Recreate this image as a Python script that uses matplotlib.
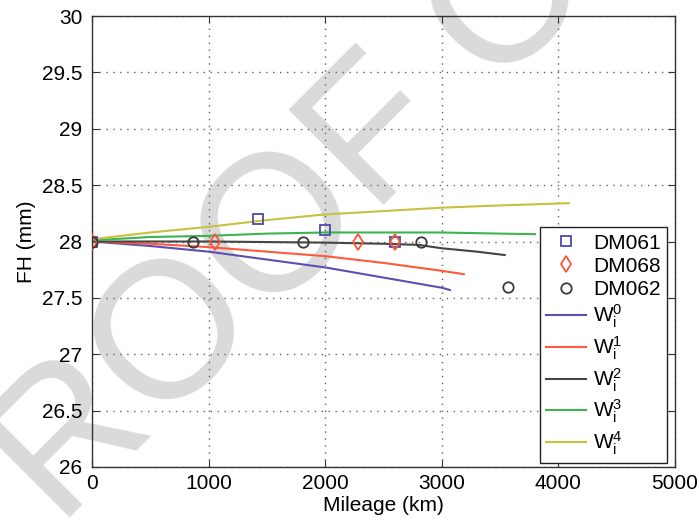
import numpy as np
import matplotlib
matplotlib.use("Agg")
import matplotlib.pyplot as plt

plt.rcParams['font.family'] = ['Liberation Sans', 'DejaVu Sans']
plt.rcParams['mathtext.fontset'] = 'custom'
plt.rcParams['mathtext.rm'] = 'Liberation Sans'
plt.rcParams['mathtext.it'] = 'Liberation Sans'

# measured flange height (FH) of three wheels
dm061_km = [0, 1425, 2000, 2600]
dm061_fh = [28.0, 28.2, 28.1, 28.0]
dm068_km = [0, 1055, 2280, 2600]
dm068_fh = [28.0, 28.0, 28.0, 28.0]
dm062_km = [0, 865, 1810, 2825, 3565]
dm062_fh = [28.0, 28.0, 28.0, 28.0, 27.6]

# simulated wear curves W_i^0 .. W_i^4
w0_km = [0, 500, 1000, 1500, 2000, 2500, 3000, 3070]
w0_fh = [28.0, 27.96, 27.91, 27.84, 27.77, 27.68, 27.59, 27.57]
w1_km = [0, 500, 1000, 1500, 2000, 2500, 3000, 3190]
w1_fh = [28.0, 27.98, 27.95, 27.91, 27.87, 27.81, 27.74, 27.71]
w2_km = [0, 1000, 2000, 2500, 2800, 3000, 3300, 3540]
w2_fh = [28.0, 28.0, 27.99, 27.98, 27.97, 27.94, 27.91, 27.88]
w3_km = [0, 500, 1000, 1500, 2000, 2500, 3000, 3500, 3800]
w3_fh = [28.01, 28.04, 28.05, 28.07, 28.08, 28.08, 28.08, 28.07, 28.065]
w4_km = [0, 500, 1000, 1500, 2000, 2500, 3000, 3500, 4090]
w4_fh = [28.02, 28.08, 28.13, 28.19, 28.24, 28.27, 28.30, 28.32, 28.34]

fig = plt.figure(figsize=(6.99, 5.26), dpi=100)
ax = fig.add_axes([92/699, 1 - 467/526, 583/699, 451/526])
ax.set_facecolor('none')

# watermark behind the axes
fig.text(-0.0465, -0.18, 'PROOF COPY', fontsize=140,
         color='#dadada', rotation=45, rotation_mode='anchor',
         ha='left', va='baseline', zorder=-1)

ax.plot(dm061_km, dm061_fh, 's', mfc='none', mec='#4b4bab', ms=7.5, mew=1.3, label='DM061', zorder=5)
ax.plot(dm068_km, dm068_fh, 'd', mfc='none', mec='#ff5533', ms=8, mew=1.3, label='DM068', zorder=5)
ax.plot(dm062_km, dm062_fh, 'o', mfc='none', mec='#3a3a3a', ms=7.5, mew=1.3, label='DM062', zorder=5)

ax.plot(w0_km, w0_fh, color='#5a50b4', lw=1.5, label=r'$\mathregular{W_i^0}$')
ax.plot(w1_km, w1_fh, color='#ff5a3c', lw=1.5, label=r'$\mathregular{W_i^1}$')
ax.plot(w2_km, w2_fh, color='#444444', lw=1.5, label=r'$\mathregular{W_i^2}$')
ax.plot(w3_km, w3_fh, color='#3cb450', lw=1.5, label=r'$\mathregular{W_i^3}$')
ax.plot(w4_km, w4_fh, color='#c8c040', lw=1.5, label=r'$\mathregular{W_i^4}$')

ax.set_xlim(0, 5000)
ax.set_ylim(26, 30)
ax.set_xticks(np.arange(0, 5001, 1000))
ax.set_yticks(np.arange(26, 30.01, 0.5))
ax.set_yticklabels(['26', '26.5', '27', '27.5', '28', '28.5', '29', '29.5', '30'])
ax.grid(True, linestyle=(0, (1, 4)), color='#606060', lw=1.0)
ax.tick_params(direction='in', length=5, labelsize=15, top=True, right=True,
               color='#333333')
ax.tick_params(axis='y', pad=7)
ax.tick_params(axis='x', pad=5)
for s in ax.spines.values():
    s.set_color('#333333')
    s.set_linewidth(1.0)

ax.set_xlabel('Mileage (km)', fontsize=15, labelpad=2)
ax.set_ylabel('FH (mm)', fontsize=15, labelpad=4)

leg = ax.legend(loc='lower right', bbox_to_anchor=(0.986, 0.009), fontsize=15,
                fancybox=False, framealpha=1, edgecolor='#222222',
                handlelength=1.9, handletextpad=0.35, labelspacing=0.2,
                borderpad=0.3, borderaxespad=0)
leg.get_frame().set_linewidth(1.0)

plt.savefig('out.png', dpi=100)
